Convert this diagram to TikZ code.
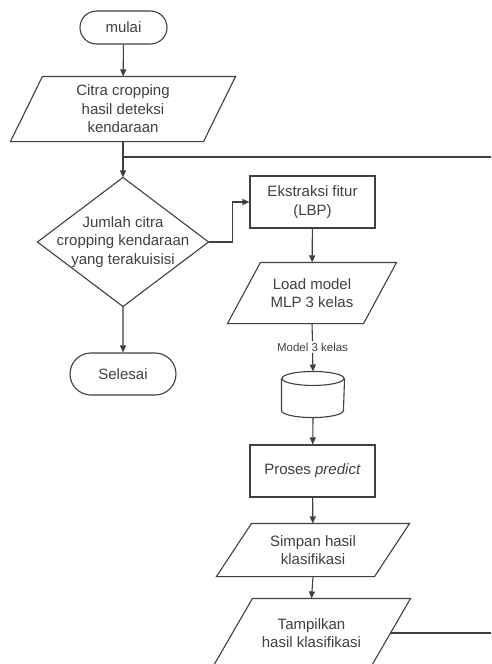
\documentclass[tikz,border=0pt]{standalone}
\usepackage{fontspec}
\setmainfont{Liberation Sans}
\usetikzlibrary{shapes.misc,arrows.meta,calc}
\definecolor{ink}{HTML}{404040}
\newcommand\parashape[2]{\draw ([xshift=#2/2]#1.north west) -- ([xshift=#2/2]#1.north east) -- ([xshift=-#2/2]#1.south east) -- ([xshift=-#2/2]#1.south west) -- cycle;}
\begin{document}
\begin{tikzpicture}[x=1pt,y=-1pt,line width=1.1pt,color=ink,
  font=\fontsize{15}{18.5}\selectfont,
  box/.style={draw,rectangle,minimum width=125,minimum height=52,inner sep=2,align=center},
  term/.style={draw,rounded rectangle,inner sep=2},
  txt/.style={align=center,inner sep=0},
  arr/.style={-{Triangle[length=7pt,width=6pt]}}]
\useasboundingbox (0,0) rectangle (491,664);
\clip (0,0) rectangle (491,664);
\fill[white] (0,0) rectangle (491,664);

% left column
\node[term,minimum width=91,minimum height=33] (start) at (123.5,27.5) {mulai};
\node[txt,minimum width=192,minimum height=64] (p1) at (123,109) {Citra cropping\\hasil deteksi\\kendaraan};
\parashape{p1}{32}
\node[txt,minimum width=170,minimum height=128] (dec) at (123,242) {Jumlah citra\\cropping kendaraan\\yang terakuisisi};
\draw (dec.north) -- (dec.east) -- (dec.south) -- (dec.west) -- cycle;
\node[term,minimum width=110,minimum height=42] (stop) at (123,374) {Selesai};
\coordinate (jn) at (123,157);

% right column
\node[box] (ext) at (312.5,202) {Ekstraksi fitur\\(LBP)};
\node[txt,minimum width=135,minimum height=60] (p2) at (312,293) {Load model\\MLP 3 kelas};
\parashape{p2}{33}
\node[txt,inner sep=1,font=\fontsize{11.5}{13}\selectfont] (lbl) at (312.5,347) {Model 3 kelas};
\node[txt,minimum width=62,minimum height=45] (db) at (313,394.5) {};
\draw ([yshift=-7pt]db.north west) -- ([yshift=7pt]db.south west)
  arc[start angle=180,end angle=360,x radius=31pt,y radius=7pt]
  -- ([yshift=-7pt]db.north east);
\draw ([yshift=-7pt]db.north) ellipse [x radius=31pt,y radius=7pt];
\node[box] (pred) at (312.5,471) {Proses \textit{predict}};
\node[txt,minimum width=157,minimum height=52] (p3) at (313,550) {Simpan hasil\\klasifikasi};
\parashape{p3}{35}
\node[txt,minimum width=157,minimum height=68] (p4) at (311.5,633) {Tampilkan\\hasil klasifikasi};
\parashape{p4}{40}

% connectors
\draw[arr] (start) -- (p1);
\draw[arr] (p1.south) -- (dec.north);
\draw[arr] (dec.south) -- (stop);
\draw[arr] (dec.east) -- ++(24,0) |- (ext.west);
\draw[arr] (ext) -- (p2);
\draw (p2.south) -- (lbl.north);
\draw[arr] (lbl.south) -- (db.north);
\draw[arr] (db.south) -- (pred);
\draw[arr] (pred) -- (p3);
\draw[arr] (p3.south) -- (p4.north);
\draw (p4.east) -- ++(130,0) |- (jn);
\end{tikzpicture}
\end{document}
